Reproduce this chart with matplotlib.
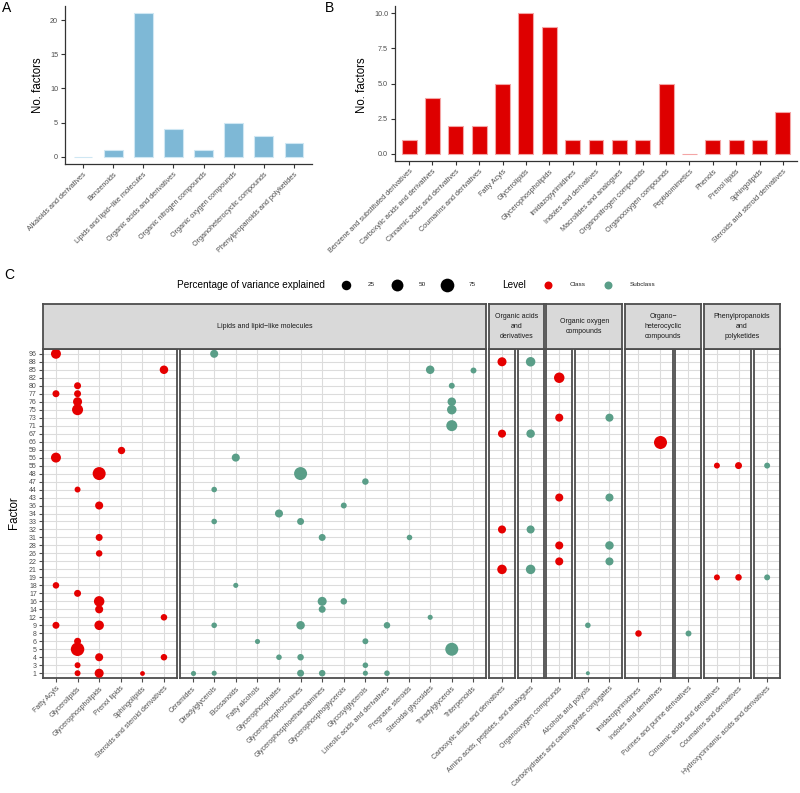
import matplotlib
matplotlib.use("Agg")
import matplotlib.pyplot as plt
import numpy as np

plt.rcParams['font.family'] = ['Liberation Sans', 'DejaVu Sans']

W, H = 800, 793
fig = plt.figure(figsize=(W / 100, H / 100), dpi=100)

# ---------------- data ----------------
superclass_names = ["Alkaloids and derivatives", "Benzenoids", "Lipids and lipid\u2212like molecules",
                    "Organic acids and derivatives", "Organic nitrogen compounds",
                    "Organic oxygen compounds", "Organoheterocyclic compounds",
                    "Phenylpropanoids and polyketides"]
superclass_factors = [0, 1, 21, 4, 1, 5, 3, 2]

class_names = ["Benzene and substituted derivatives", "Carboxylic acids and derivatives",
               "Cinnamic acids and derivatives", "Coumarins and derivatives", "Fatty Acyls",
               "Glycerolipids", "Glycerophospholipids", "Imidazopyrimidines",
               "Indoles and derivatives", "Macrolides and analogues", "Organonitrogen compounds",
               "Organooxygen compounds", "Peptidomimetics", "Phenols", "Prenol lipids",
               "Sphingolipids", "Steroids and steroid derivatives"]
class_factors = [1, 4, 2, 2, 5, 10, 9, 1, 1, 1, 1, 5, 0, 1, 1, 1, 3]

factor_levels = [1, 3, 4, 5, 6, 8, 9, 12, 14, 16, 17, 18, 19, 21, 22, 26, 28, 31, 32, 33, 34,
                 36, 43, 44, 47, 48, 55, 56, 59, 66, 67, 71, 73, 75, 76, 77, 80, 82, 85, 88, 96]

facet_titles = ["Lipids and lipid\u2212like molecules", "Organic acids\nand\nderivatives",
                "Organic oxygen\ncompounds", "Organo\u2212\nheterocyclic\ncompounds",
                "Phenylpropanoids\nand\npolyketides"]
facet_class_cats = [
    ["Fatty Acyls", "Glycerolipids", "Glycerophospholipids", "Prenol lipids", "Sphingolipids",
     "Steroids and steroid derivatives"],
    ["Carboxylic acids and derivatives"],
    ["Organooxygen compounds"],
    ["Imidazopyrimidines", "Indoles and derivatives"],
    ["Cinnamic acids and derivatives", "Coumarins and derivatives"],
]
facet_subclass_cats = [
    ["Ceramides", "Diradylglycerols", "Eicosanoids", "Fatty alcohols", "Glycerophosphates",
     "Glycerophosphocholines", "Glycerophosphoethanolamines", "Glycerophosphoglycerols",
     "Glycosylglycerols", "Lineolic acids and derivatives", "Pregnane steroids",
     "Steroidal glycosides", "Triradylglycerols", "Triterpenoids"],
    ["Amino acids, peptides, and analogues"],
    ["Alcohols and polyols", "Carbohydrates and carbohydrate conjugates"],
    ["Purines and purine derivatives"],
    ["Hydroxycinnamic acids and derivatives"],
]

dot_category = (["Fatty Acyls"] * 5 + ["Glycerolipids"] * 10 + ["Glycerophospholipids"] * 9
                + ["Prenol lipids"] + ["Sphingolipids"] + ["Steroids and steroid derivatives"] * 3
                + ["Ceramides"] + ["Diradylglycerols"] * 5 + ["Eicosanoids"] * 2 + ["Fatty alcohols"]
                + ["Glycerophosphates"] * 2 + ["Glycerophosphocholines"] * 5
                + ["Glycerophosphoethanolamines"] * 4 + ["Glycerophosphoglycerols"] * 2
                + ["Glycosylglycerols"] * 4 + ["Lineolic acids and derivatives"] * 2
                + ["Pregnane steroids"] + ["Steroidal glycosides"] * 2 + ["Triradylglycerols"] * 5
                + ["Triterpenoids"]
                + ["Carboxylic acids and derivatives"] * 4 + ["Amino acids, peptides, and analogues"] * 4
                + ["Organooxygen compounds"] * 5 + ["Alcohols and polyols"] * 2
                + ["Carbohydrates and carbohydrate conjugates"] * 4
                + ["Imidazopyrimidines"] + ["Indoles and derivatives"] + ["Purines and purine derivatives"]
                + ["Cinnamic acids and derivatives"] * 2 + ["Coumarins and derivatives"] * 2
                + ["Hydroxycinnamic acids and derivatives"] * 2)
dot_factor = ([96, 77, 56, 18, 9] + [80, 77, 76, 75, 44, 17, 6, 5, 3, 1]
              + [48, 36, 31, 26, 16, 14, 9, 4, 1] + [59] + [1] + [85, 12, 4]
              + [1] + [96, 44, 33, 9, 1] + [56, 18] + [6] + [34, 4] + [48, 33, 9, 4, 1]
              + [31, 16, 14, 1] + [36, 16] + [47, 6, 3, 1] + [9, 1] + [31] + [85, 12]
              + [80, 76, 75, 71, 5] + [85]
              + [88, 67, 32, 21] + [88, 67, 32, 21]
              + [82, 73, 43, 28, 22] + [9, 1] + [73, 43, 28, 22]
              + [8] + [66] + [8] + [55, 19] + [55, 19] + [55, 19])
dot_variance = ([29, 8, 29, 6, 8] + [8, 8, 21, 40, 4, 8, 8, 72, 4, 4]
                + [65, 14, 8, 6, 34, 14, 25, 14, 21] + [10] + [1.5] + [17, 6, 6]
                + [2] + [14, 3, 3, 3, 2] + [14, 2] + [2] + [14, 3] + [65, 8, 17, 6, 8]
                + [8, 21, 8, 6] + [4, 6] + [6, 4, 3, 2] + [6, 3] + [3] + [17, 2]
                + [4, 17, 25, 40, 65] + [4]
                + [21, 14, 14, 25] + [25, 17, 14, 25]
                + [34, 14, 14, 14, 14] + [3, 1] + [14, 14, 17, 14]
                + [6] + [65] + [4] + [4, 4] + [8, 6] + [4, 4])

legend_sizes = [25, 50, 75]
level_names = ["Class", "Subclass"]

# ---------------- style ----------------
blue = "#7EB8D6"
red_bar = "#DE0000"
level_colors = {"Class": "#E50000", "Subclass": "#5A9E88"}
dark = "#4D4D4D"
grid_c = "#DCDCDC"


def ax_px(l, t, r, b, **kw):
    return fig.add_axes([l / W, 1 - b / H, (r - l) / W, (b - t) / H], **kw)


def size_pt2(v):
    d = 4 + 10 * np.sqrt(np.clip((np.asarray(v, float) - 1) / 79.0, 0, 1))
    return (d * 0.72) ** 2


# overlay for free text / legend
ov = ax_px(0, 0, W, H)
ov.set_xlim(0, W)
ov.set_ylim(H, 0)
ov.axis('off')


def style_bar_axes(ax):
    for s in ("top", "right"):
        ax.spines[s].set_visible(False)
    for s in ("left", "bottom"):
        ax.spines[s].set_color("#333333")
        ax.spines[s].set_linewidth(0.9)
    ax.tick_params(length=3, width=0.8, color="#333333", labelsize=5.2, labelcolor=dark, pad=2)


# ---------------- Panel A ----------------
axA = ax_px(65, 6, 312, 164)
xa = np.arange(len(superclass_names))
axA.bar(xa, superclass_factors, width=0.62, color=blue, edgecolor="#CFE7F3", linewidth=0.8)
axA.set_xlim(-0.6, len(superclass_names) - 0.4)
axA.set_ylim(-1.05, 22.05)
axA.set_yticks([0, 5, 10, 15, 20])
axA.set_xticks(xa)
axA.set_xticklabels(superclass_names, rotation=45, ha='right', va='top', rotation_mode='anchor')
style_bar_axes(axA)
ov.text(38, 85, "No. factors", rotation=90, ha='center', va='center', fontsize=8.3)
ov.text(7, 8, "A", ha='center', va='center', fontsize=10)

# ---------------- Panel B ----------------
axB = ax_px(395, 6, 797, 161)
xb = np.arange(len(class_names))
axB.bar(xb, class_factors, width=0.64, color=red_bar, edgecolor="#F4A5A5", linewidth=0.8)
axB.set_xlim(-0.6, len(class_names) - 0.4)
axB.set_ylim(-0.5, 10.5)
axB.set_yticks([0, 2.5, 5, 7.5, 10])
axB.set_yticklabels(["0.0", "2.5", "5.0", "7.5", "10.0"])
axB.set_xticks(xb)
axB.set_xticklabels(class_names, rotation=45, ha='right', va='top', rotation_mode='anchor')
style_bar_axes(axB)
ov.text(362, 85, "No. factors", rotation=90, ha='center', va='center', fontsize=8.3)
ov.text(330, 8, "B", ha='center', va='center', fontsize=10)

# ---------------- Panel C ----------------
ov.text(9, 275, "C", ha='center', va='center', fontsize=10)
ov.text(14, 513, "Factor", rotation=90, ha='center', va='center', fontsize=8.3)

# legend
ov.text(325, 285, "Percentage of variance explained", ha='right', va='center', fontsize=7.2)
for xd, xl, v in zip([346, 397, 447], [371, 422, 472], legend_sizes):
    ov.scatter([xd], [285], s=size_pt2(v), color="black", linewidths=0)
    ov.text(xl, 285, str(v), ha='center', va='center', fontsize=4.6, color="#222222")
ov.text(514, 285, "Level", ha='center', va='center', fontsize=7.2)
for xd, xl, lev in zip([548, 608], [578, 630], level_names):
    ov.scatter([xd], [285], s=(8 * 0.72) ** 2, color=level_colors[lev], linewidths=0)
    ov.text(xl, 285, lev, ha='center' if lev == "Class" else 'left', va='center',
            fontsize=4.6, color="#222222")

u = 21.6
gap = 2.7
x0 = 43
top_c, bot_c = 349, 678
strip_top = 304
ny = len(factor_levels)
dot_category_arr = np.array(dot_category)
dot_factor_arr = np.array(dot_factor)
dot_variance_arr = np.array(dot_variance, float)
first = True
for title, ccats, scats in zip(facet_titles, facet_class_cats, facet_subclass_cats):
    g_left = x0
    for cats, lev in ((ccats, "Class"), (scats, "Subclass")):
        w = u * (len(cats) + 0.2)
        ax = ax_px(x0, top_c, x0 + w, bot_c)
        ax.set_xlim(-0.6, len(cats) - 0.4)
        ax.set_ylim(-0.6, ny - 0.4)
        ax.set_xticks(range(len(cats)))
        ax.set_xticklabels(cats, rotation=45, ha='right', va='top', rotation_mode='anchor')
        ax.set_yticks(range(ny))
        ax.set_yticklabels([str(f) for f in factor_levels])
        ax.grid(True, color=grid_c, linewidth=0.8)
        ax.set_axisbelow(True)
        for s in ax.spines.values():
            s.set_color(dark)
            s.set_linewidth(1.3)
        ax.tick_params(axis='x', length=3, width=0.8, color=dark, labelsize=5.0,
                       labelcolor=dark, pad=2)
        if first:
            ax.tick_params(axis='y', length=3, width=0.8, color=dark, labelsize=5.0,
                           labelcolor=dark, pad=1.5)
            first = False
        else:
            ax.tick_params(axis='y', length=0, labelleft=False)
        for i, c in enumerate(cats):
            m = dot_category_arr == c
            if m.any():
                ys = [factor_levels.index(f) for f in dot_factor_arr[m]]
                ax.scatter([i] * len(ys), ys, s=size_pt2(dot_variance_arr[m]),
                           color=level_colors[lev], linewidths=0, zorder=3, clip_on=False)
        x0 += w + gap
    g_right = x0 - gap
    sax = ax_px(g_left, strip_top, g_right, top_c)
    sax.set_facecolor("#D9D9D9")
    sax.set_xticks([])
    sax.set_yticks([])
    for s in sax.spines.values():
        s.set_color(dark)
        s.set_linewidth(1.3)
    sax.text(0.5, 0.5, title, ha='center', va='center', fontsize=5.0, color="#1A1A1A",
             transform=sax.transAxes, linespacing=1.5)

fig.savefig("out.png", dpi=100)
